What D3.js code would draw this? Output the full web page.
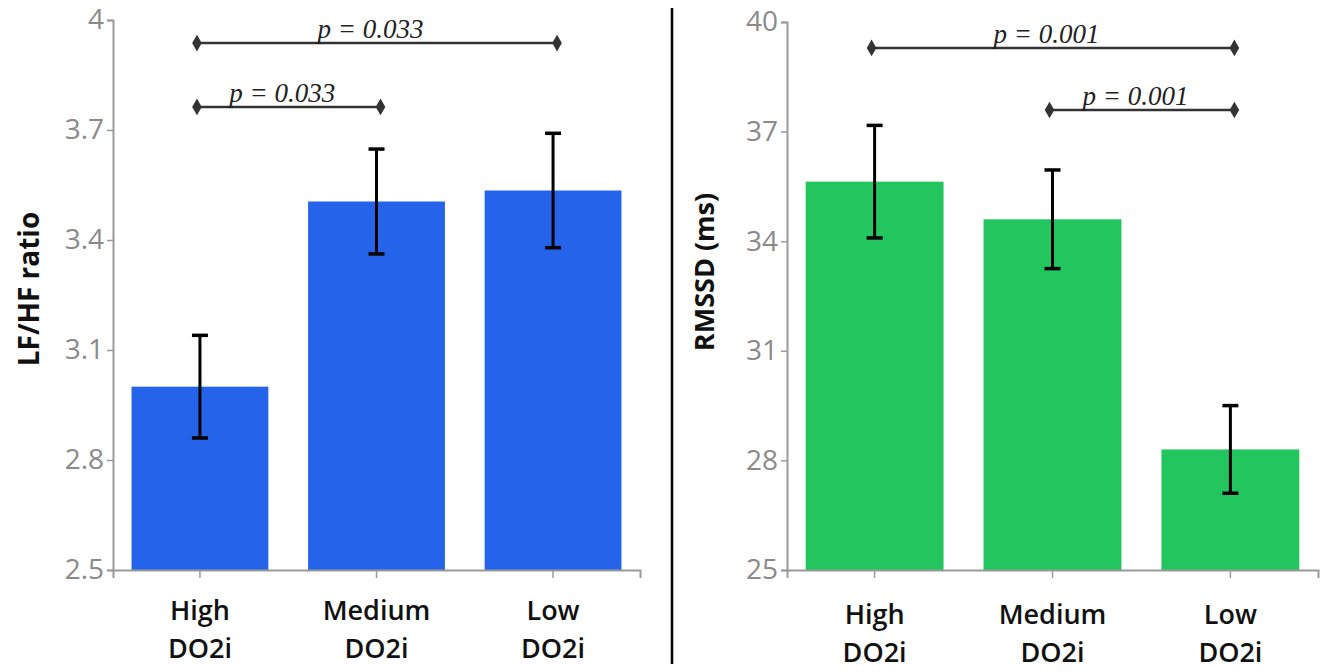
<!DOCTYPE html>
<html>
<head>
<meta charset="utf-8">
<script src="https://cdn.jsdelivr.net/npm/d3@7"></script>
<style>
  body { margin: 0; background: #fff; }
  svg { display: block; font-family: "Open Sans", sans-serif; }
</style>
</head>
<body>
<svg id="chart" width="1329" height="672"></svg>
<script>
// categories
var groups = [["High", "DO2i"], ["Medium", "DO2i"], ["Low", "DO2i"]]

// LF/HF ratio panel
var lfhfMeans = [3.0, 3.505, 3.535]
var lfhfErrors = [0.14, 0.143, 0.156]
var lfhfTicks = [2.5, 2.8, 3.1, 3.4, 3.7, 4]
var lfhfPairs = [[0, 2], [0, 1]]
var lfhfLevels = [3.937, 3.763]
var lfhfPLabels = ["p = 0.033", "p = 0.033"]

// RMSSD panel
var rmssdMeans = [35.63, 34.6, 28.3]
var rmssdErrors = [1.54, 1.35, 1.2]
var rmssdTicks = [25, 28, 31, 34, 37, 40]
var rmssdPairs = [[0, 2], [1, 2]]
var rmssdLevels = [39.29, 37.59]
var rmssdPLabels = ["p = 0.001", "p = 0.001"]

var svg = d3.select("#chart")

function drawPanel(opt) {
  var g = svg.append("g")
  var keys = groups.map(function(d, i) { return i })

  var x = d3.scaleBand()
    .domain(keys)
    .range([opt.left, opt.right])
    .paddingInner(0.225)
    .paddingOuter(0.105)

  var y = d3.scaleLinear()
    .domain([opt.ticks[0], opt.ticks[opt.ticks.length - 1]])
    .range([opt.bottom, opt.top])

  var data = opt.means.map(function(m, i) {
    return { key: i, mean: m, err: opt.errors[i] }
  })

  function cx(k) { return x(k) + x.bandwidth() / 2 }

  // bars
  g.selectAll("rect.bar")
    .data(data)
    .enter()
    .append("rect")
    .attr("class", "bar")
    .attr("x", function(d) { return x(d.key) })
    .attr("width", x.bandwidth())
    .attr("y", function(d) { return y(d.mean) })
    .attr("height", function(d) { return y(opt.ticks[0]) - y(d.mean) })
    .attr("fill", opt.color)

  // y axis
  var yAxis = g.append("g")
    .attr("transform", "translate(" + opt.left + ",0)")
    .call(d3.axisLeft(y).tickValues(opt.ticks).tickFormat(function(d) { return d }).tickSize(6).tickPadding(3))
  yAxis.select(".domain").attr("stroke", "#9a9a9a").attr("stroke-width", 2)
  yAxis.selectAll(".tick line").attr("stroke", "#9a9a9a").attr("stroke-width", 1.5)
  yAxis.selectAll(".tick text")
    .attr("fill", "#8a8a8a")
    .style("font-size", "28px")
    .style("font-family", "'Open Sans', sans-serif")

  // x axis
  var xAxis = g.append("g")
    .attr("transform", "translate(0," + opt.bottom + ")")
    .call(d3.axisBottom(x).tickSizeOuter(0).tickSize(8).tickFormat(""))
  xAxis.select(".domain").attr("stroke", "#9a9a9a").attr("stroke-width", 2)
  xAxis.selectAll(".tick line").attr("stroke", "#9a9a9a").attr("stroke-width", 1.5)

  g.selectAll("text.xlab")
    .data(data)
    .enter()
    .append("text")
    .attr("class", "xlab")
    .attr("text-anchor", "middle")
    .attr("y", opt.bottom + opt.labelOffset)
    .style("font-size", "27px")
    .style("font-weight", "600")
    .attr("fill", "#111")
    .selectAll("tspan")
    .data(function(d) { return groups[d.key].map(function(t) { return { key: d.key, t: t } }) })
    .enter()
    .append("tspan")
    .attr("x", function(d) { return cx(d.key) })
    .attr("dy", function(d, i) { return i === 0 ? 0 : 38 })
    .text(function(d) { return d.t })

  // error bars
  var eb = g.selectAll("g.err")
    .data(data)
    .enter()
    .append("g")
    .attr("class", "err")
    .attr("stroke", "#000")
    .attr("stroke-width", 3)
  eb.append("line")
    .attr("x1", function(d) { return cx(d.key) })
    .attr("x2", function(d) { return cx(d.key) })
    .attr("y1", function(d) { return y(d.mean + d.err) })
    .attr("y2", function(d) { return y(d.mean - d.err) })
  ;[1, -1].forEach(function(s) {
    eb.append("line")
      .attr("stroke-width", 3.5)
      .attr("x1", function(d) { return cx(d.key) - 8 })
      .attr("x2", function(d) { return cx(d.key) + 8 })
      .attr("y1", function(d) { return y(d.mean + s * d.err) })
      .attr("y2", function(d) { return y(d.mean + s * d.err) })
  })

  // significance brackets
  var br = opt.pairs.map(function(p, i) {
    return { a: p[0], b: p[1], level: opt.levels[i], label: opt.plabels[i] }
  })
  var bg = g.selectAll("g.bracket")
    .data(br)
    .enter()
    .append("g")
    .attr("class", "bracket")
  bg.append("line")
    .attr("x1", function(d) { return cx(d.a) - 3 })
    .attr("x2", function(d) { return cx(d.b) + 4 })
    .attr("y1", function(d) { return y(d.level) })
    .attr("y2", function(d) { return y(d.level) })
    .attr("stroke", "#333")
    .attr("stroke-width", 2.5)
  bg.each(function(d) {
    var sel = d3.select(this)
    ;[cx(d.a) - 3, cx(d.b) + 4].forEach(function(px) {
      sel.append("path")
        .attr("d", d3.symbol().type(d3.symbolDiamond).size(80)())
        .attr("transform", "translate(" + px + "," + y(d.level) + ")")
        .attr("fill", "#333")
    })
  })
  bg.append("text")
    .attr("x", function(d) { return (cx(d.a) + cx(d.b)) / 2 - 6 })
    .attr("y", function(d) { return y(d.level) - 5 })
    .attr("text-anchor", "middle")
    .style("font-family", "'Liberation Serif', 'Times New Roman', serif")
    .style("font-style", "italic")
    .style("font-size", "27px")
    .attr("fill", "#222")
    .text(function(d) { return d.label })

  // axis title
  g.append("text")
    .attr("transform", "translate(" + opt.titleX + "," + opt.titleY + ") rotate(-90)")
    .attr("text-anchor", "middle")
    .style("font-size", opt.titleSize)
    .style("font-weight", "bold")
    .attr("fill", "#111")
    .text(opt.title)
}

drawPanel({
  left: 113, right: 640, top: 20, bottom: 570,
  means: lfhfMeans, errors: lfhfErrors, ticks: lfhfTicks,
  pairs: lfhfPairs, levels: lfhfLevels, plabels: lfhfPLabels,
  color: "#2563eb", title: "LF/HF ratio", titleX: 39, titleY: 289,
  titleSize: "28px", labelOffset: 50
})

drawPanel({
  left: 787, right: 1318, top: 22, bottom: 570,
  means: rmssdMeans, errors: rmssdErrors, ticks: rmssdTicks,
  pairs: rmssdPairs, levels: rmssdLevels, plabels: rmssdPLabels,
  color: "#22c55e", title: "RMSSD (ms)", titleX: 714, titleY: 272,
  titleSize: "27px", labelOffset: 54
})

// divider between panels
svg.append("line")
  .attr("x1", 672).attr("x2", 672)
  .attr("y1", 8).attr("y2", 664)
  .attr("stroke", "#000")
  .attr("stroke-width", 2.5)
</script>
</body>
</html>
